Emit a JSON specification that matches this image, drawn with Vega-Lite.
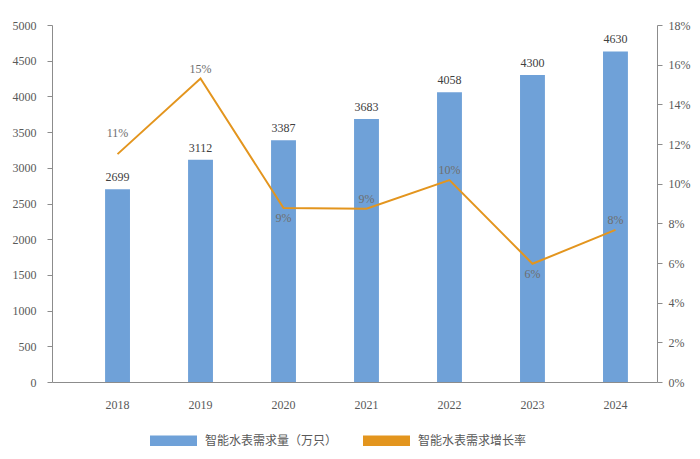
{
  "$schema": "https://vega.github.io/schema/vega-lite/v6.json",
  "autosize": {"type": "none"},
  "padding": {"left": 52, "top": 25, "right": 43, "bottom": 77},
  "width": 605,
  "height": 357,
  "background": "white",
  "config": {
    "view": {"stroke": null},
    "axis": {
      "grid": false,
      "domainColor": "#8c8c8c",
      "tickColor": "#8c8c8c",
      "labelColor": "#595959",
      "labelFont": "Liberation Serif",
      "labelFontSize": 12,
      "title": null
    }
  },
  "data": {
    "values": [
      {"year": "2018", "demand": 2699, "growth": 0.1149},
      {"year": "2019", "demand": 3112, "growth": 0.153},
      {"year": "2020", "demand": 3387, "growth": 0.0877},
      {"year": "2021", "demand": 3683, "growth": 0.0874},
      {"year": "2022", "demand": 4058, "growth": 0.1018},
      {"year": "2023", "demand": 4300, "growth": 0.0596},
      {"year": "2024", "demand": 4630, "growth": 0.0767}
    ]
  },
  "encoding": {
    "x": {
      "field": "year",
      "type": "ordinal",
      "scale": {"type": "band", "paddingInner": 0.7, "paddingOuter": 0.495, "align": 0.646},
      "axis": {"labelAngle": 0, "ticks": false, "labelPadding": 17}
    }
  },
  "layer": [
    {
      "encoding": {
        "y": {
          "field": "demand",
          "type": "quantitative",
          "scale": {"domain": [0, 5000], "nice": false},
          "axis": {"values": [0, 500, 1000, 1500, 2000, 2500, 3000, 3500, 4000, 4500, 5000], "format": "d", "tickSize": 5, "labelPadding": 11, "orient": "left"}
        }
      },
      "layer": [
        {
          "mark": {"type": "bar"},
          "encoding": {
            "color": {
              "datum": "智能水表需求量（万只）",
              "type": "nominal",
              "scale": {"domain": ["智能水表需求量（万只）", "智能水表需求增长率"], "range": ["#6fa1d8", "#e3951e"]},
              "legend": {
                "orient": "none",
                "legendX": 98,
                "legendY": 392,
                "direction": "horizontal",
                "title": null,
                "symbolType": "M-1,-0.22H1V0.22H-1Z",
                "symbolSize": 2209,
                "symbolStrokeWidth": 0,
                "labelFont": "Noto Sans CJK SC",
                "labelFontSize": 12,
                "labelColor": "#595959",
                "labelOffset": 8,
                "columnPadding": 25,
                "encode": {"symbols": {"update": {"fill": {"scale": "color", "field": "value"}, "fillOpacity": {"value": 1}, "strokeWidth": {"value": 0}}}}
              }
            }
          }
        },
        {
          "mark": {"type": "text", "baseline": "bottom", "dy": -5, "font": "Liberation Serif", "fontSize": 12, "color": "#404040"},
          "encoding": {"text": {"field": "demand", "type": "quantitative", "format": "d"}}
        }
      ]
    },
    {
      "encoding": {
        "y": {
          "field": "growth",
          "type": "quantitative",
          "scale": {"domain": [0, 0.18], "nice": false},
          "axis": {"orient": "right", "values": [0, 0.02, 0.04, 0.06, 0.08, 0.1, 0.12, 0.14, 0.16, 0.18], "format": ".0%", "tickSize": 5, "labelPadding": 6}
        }
      },
      "layer": [
        {
          "mark": {"type": "line", "strokeWidth": 2},
          "encoding": {"color": {"datum": "智能水表需求增长率", "type": "nominal"}}
        },
        {
          "transform": [{"filter": "datum.year == '2018'"}],
          "mark": {"type": "text", "baseline": "middle", "dy": -21, "font": "Liberation Serif", "fontSize": 12, "color": "#6e6e6e"},
          "encoding": {"text": {"field": "growth", "type": "quantitative", "format": ".0%"}}
        },
        {
          "transform": [{"filter": "indexof(['2019','2021','2022','2024'], datum.year) >= 0"}],
          "mark": {"type": "text", "baseline": "middle", "dy": -10, "font": "Liberation Serif", "fontSize": 12, "color": "#6e6e6e"},
          "encoding": {"text": {"field": "growth", "type": "quantitative", "format": ".0%"}}
        },
        {
          "transform": [{"filter": "indexof(['2020','2023'], datum.year) >= 0"}],
          "mark": {"type": "text", "baseline": "middle", "dy": 10, "font": "Liberation Serif", "fontSize": 12, "color": "#6e6e6e"},
          "encoding": {"text": {"field": "growth", "type": "quantitative", "format": ".0%"}}
        }
      ]
    }
  ],
  "resolve": {"scale": {"y": "independent"}}
}
